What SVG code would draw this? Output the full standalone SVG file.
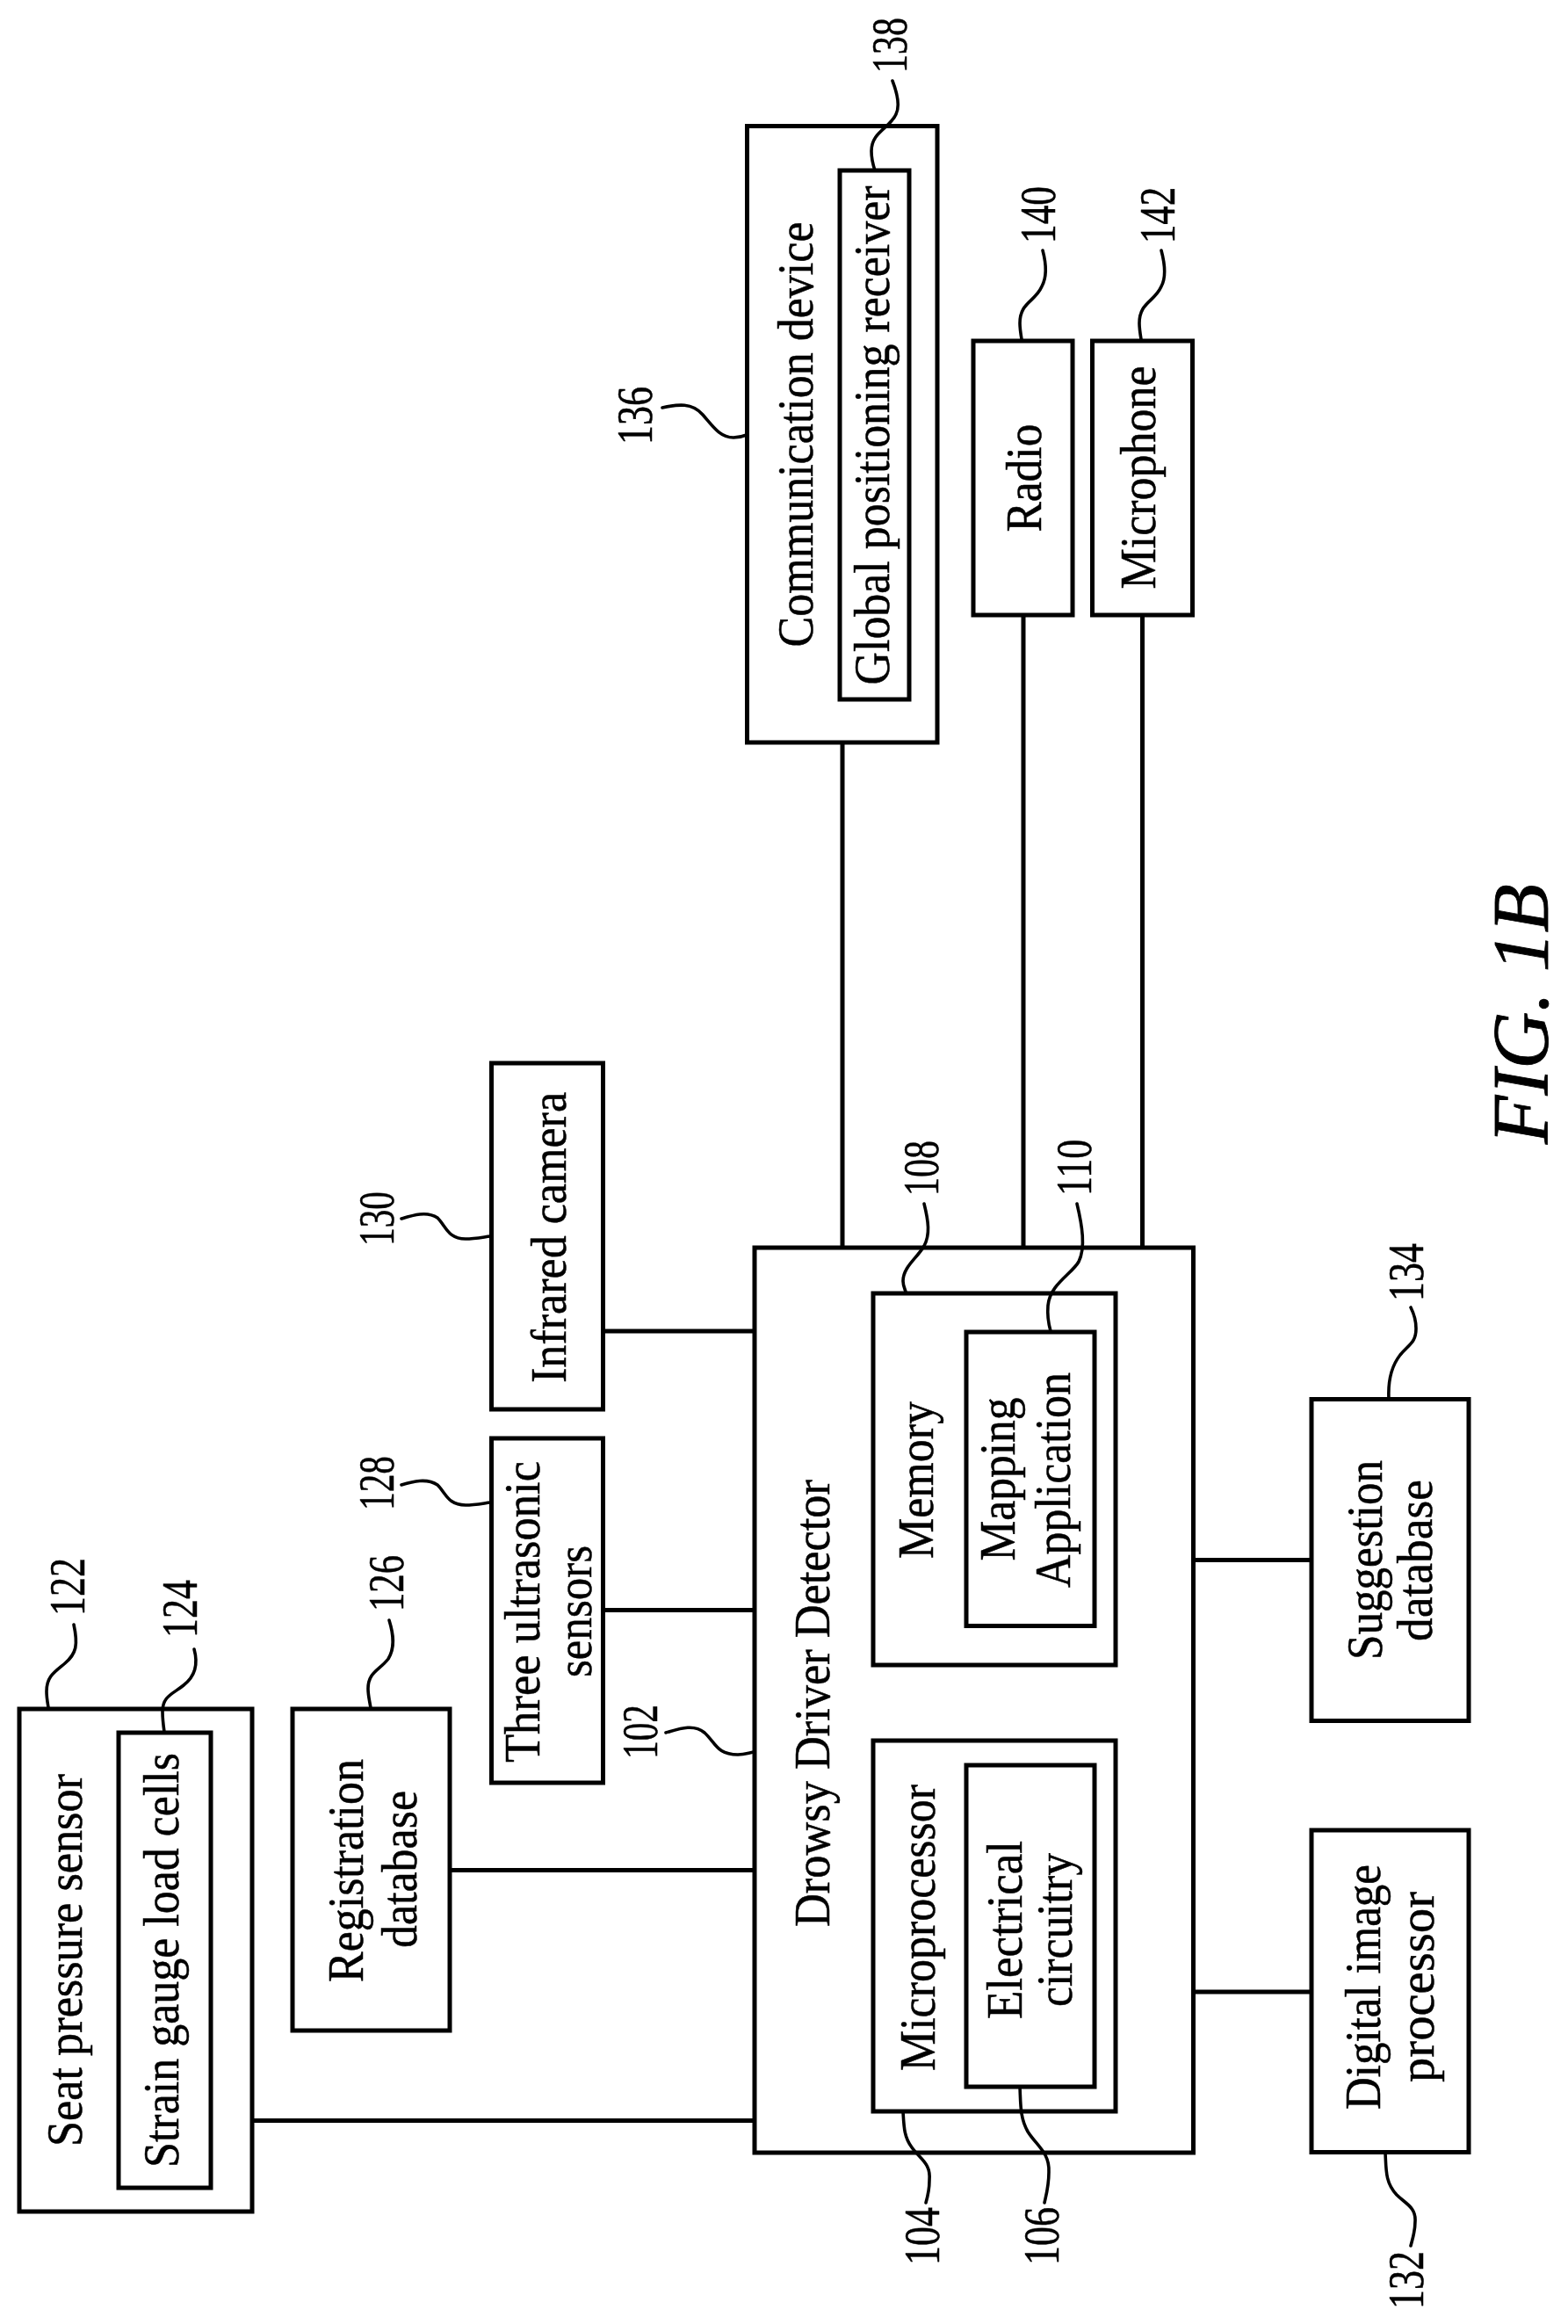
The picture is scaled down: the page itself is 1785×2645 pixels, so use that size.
<svg xmlns="http://www.w3.org/2000/svg" width="1785" height="2645" viewBox="0 0 1785 2645">
<style>
.b{fill:#fff;stroke:#000;stroke-width:5}
.c{fill:none;stroke:#000;stroke-width:5}
.l{fill:none;stroke:#000;stroke-width:3.6;stroke-linecap:round}
text{font-family:"Liberation Serif","Times New Roman",serif;fill:#000;stroke:#000;stroke-width:.5}
.t{font-size:56px}
.n{font-size:56px}
.f{font-size:90px;font-style:italic;stroke-width:.8}
</style>
<rect width="1785" height="2645" fill="#fff"/>
<g id="connectors">
<path class="c" d="M287,2413.500H859M512,2128.500H859M687,1832.500H859M686,1515H859M1358,1775.500H1493M1358,2267H1493M959,845V1420M1165,700V1420M1300.500,700V1420"/>
</g>
<g id="node-102">
<rect class="b" x="859" y="1420" width="499.500" height="1030"/>
<text class="t" transform="translate(944,2193) rotate(-90)" textLength="509" lengthAdjust="spacingAndGlyphs">Drowsy Driver Detector</text>
</g>
<g id="node-104">
<rect class="b" x="994" y="1981" width="276" height="422"/>
<text class="t" transform="translate(1064,2357) rotate(-90)" textLength="326" lengthAdjust="spacingAndGlyphs">Microprocessor</text>
</g>
<g id="node-106">
<rect class="b" x="1100" y="2009" width="146" height="366"/>
<text class="t" transform="translate(1163,2298) rotate(-90)" textLength="203" lengthAdjust="spacingAndGlyphs">Electrical</text>
<text class="t" transform="translate(1220,2284) rotate(-90)" textLength="175" lengthAdjust="spacingAndGlyphs">circuitry</text>
</g>
<g id="node-108">
<rect class="b" x="994" y="1472" width="276" height="423"/>
<text class="t" transform="translate(1062,1774) rotate(-90)" textLength="179" lengthAdjust="spacingAndGlyphs">Memory</text>
</g>
<g id="node-110">
<rect class="b" x="1100" y="1516" width="146" height="334.500"/>
<text class="t" transform="translate(1154.500,1776.500) rotate(-90)" textLength="186" lengthAdjust="spacingAndGlyphs">Mapping</text>
<text class="t" transform="translate(1218,1807) rotate(-90)" textLength="245" lengthAdjust="spacingAndGlyphs">Application</text>
</g>
<g id="node-122">
<rect class="b" x="22" y="1945" width="265" height="572"/>
<text class="t" transform="translate(93,2443) rotate(-90)" textLength="424" lengthAdjust="spacingAndGlyphs">Seat pressure sensor</text>
</g>
<g id="node-124">
<rect class="b" x="135" y="1972" width="105" height="518"/>
<text class="t" transform="translate(203,2467) rotate(-90)" textLength="472" lengthAdjust="spacingAndGlyphs">Strain gauge load cells</text>
</g>
<g id="node-126">
<rect class="b" x="333" y="1945" width="179" height="366"/>
<text class="t" transform="translate(413,2256) rotate(-90)" textLength="254" lengthAdjust="spacingAndGlyphs">Registration</text>
<text class="t" transform="translate(474,2217) rotate(-90)" textLength="179" lengthAdjust="spacingAndGlyphs">database</text>
</g>
<g id="node-128">
<rect class="b" x="559.500" y="1637" width="127" height="392"/>
<text class="t" transform="translate(614,2006) rotate(-90)" textLength="343" lengthAdjust="spacingAndGlyphs">Three ultrasonic</text>
<text class="t" transform="translate(673,1909) rotate(-90)" textLength="150" lengthAdjust="spacingAndGlyphs">sensors</text>
</g>
<g id="node-130">
<rect class="b" x="559.500" y="1210" width="127" height="394"/>
<text class="t" transform="translate(644,1574) rotate(-90)" textLength="331" lengthAdjust="spacingAndGlyphs">Infrared camera</text>
</g>
<g id="node-132">
<rect class="b" x="1493" y="2083" width="179" height="366.500"/>
<text class="t" transform="translate(1571,2401) rotate(-90)" textLength="279" lengthAdjust="spacingAndGlyphs">Digital image</text>
<text class="t" transform="translate(1632,2370) rotate(-90)" textLength="217" lengthAdjust="spacingAndGlyphs">processor</text>
</g>
<g id="node-134">
<rect class="b" x="1493" y="1592.500" width="179" height="366"/>
<text class="t" transform="translate(1573,1889) rotate(-90)" textLength="227" lengthAdjust="spacingAndGlyphs">Suggestion</text>
<text class="t" transform="translate(1630,1868) rotate(-90)" textLength="184" lengthAdjust="spacingAndGlyphs">database</text>
</g>
<g id="node-136">
<rect class="b" x="850.500" y="143.500" width="216.500" height="701.500"/>
<text class="t" transform="translate(924.500,736.500) rotate(-90)" textLength="484" lengthAdjust="spacingAndGlyphs">Communication device</text>
</g>
<g id="node-138">
<rect class="b" x="956" y="194" width="79" height="602"/>
<text class="t" transform="translate(1012,779.500) rotate(-90)" textLength="568" lengthAdjust="spacingAndGlyphs">Global positioning receiver</text>
</g>
<g id="node-140">
<rect class="b" x="1108" y="388" width="113" height="312"/>
<text class="t" transform="translate(1185,605.600) rotate(-90)" textLength="123" lengthAdjust="spacingAndGlyphs">Radio</text>
</g>
<g id="node-142">
<rect class="b" x="1243.500" y="388" width="114" height="312"/>
<text class="t" transform="translate(1315,670.500) rotate(-90)" textLength="254" lengthAdjust="spacingAndGlyphs">Microphone</text>
</g>
<g id="leaders">
<path class="l" d="M758,1972C775,1967 790,1962 802,1972C815,1984 816,1997 840,1997C848,1997 852,1995 858,1994"/>
<path class="l" d="M1028,2403C1029,2420 1029,2432 1038,2444C1048,2458 1060,2462 1058,2482C1058,2492 1056,2500 1054,2507"/>
<path class="l" d="M1161,2375C1162,2395 1161,2410 1170,2426C1180,2442 1195,2450 1194,2472C1194,2488 1191,2498 1189,2507"/>
<path class="l" d="M1052,1370C1057,1390 1059,1405 1052,1418C1044,1432 1028,1442 1028,1458C1028,1463 1030,1467 1031,1470"/>
<path class="l" d="M1226,1370C1232,1395 1236,1420 1228,1436C1220,1450 1195,1462 1193,1486C1192,1498 1194,1508 1196,1515"/>
<path class="l" d="M84,1849C89,1872 87,1882 74,1893C62,1903 53,1908 53,1925C53,1932 54,1937 55,1943"/>
<path class="l" d="M221,1877C226,1895 222,1908 209,1918C197,1928 185,1930 185,1948C185,1957 186,1964 187,1971"/>
<path class="l" d="M443,1844C448,1860 450,1875 442,1888C432,1901 419,1903 419,1922C419,1930 421,1937 422,1944"/>
<path class="l" d="M457,1690C470,1686 486,1682 498,1690C508,1700 510,1713 530,1713C540,1713 550,1711 558,1710"/>
<path class="l" d="M457,1387C470,1383 486,1378 498,1386C508,1396 510,1410 530,1410C540,1410 550,1408 558,1407"/>
<path class="l" d="M1577,2450C1578,2470 1577,2484 1590,2498C1600,2508 1612,2512 1611,2528C1611,2540 1608,2548 1606,2556"/>
<path class="l" d="M1581,1592C1580,1572 1583,1556 1594,1542C1604,1530 1612,1528 1612,1512C1612,1502 1609,1494 1606,1488"/>
<path class="l" d="M754,464C772,460 788,458 800,472C812,486 820,498 835,498C840,498 845,497 850,495"/>
<path class="l" d="M1016,92C1021,105 1025,120 1020,130C1013,146 992,150 992,172C992,180 994,188 996,194"/>
<path class="l" d="M1187,285C1191,300 1192,315 1186,326C1178,344 1161,344 1161,368C1161,374 1162,380 1163,386"/>
<path class="l" d="M1322,285C1326,300 1328,315 1322,326C1314,344 1297,344 1297,368C1297,374 1298,380 1299,386"/>
</g>
<g id="labels">
<text class="n" transform="translate(748,2002) rotate(-90)" textLength="62" lengthAdjust="spacingAndGlyphs">102</text>
<text class="n" transform="translate(1069,2578) rotate(-90)" textLength="66" lengthAdjust="spacingAndGlyphs">104</text>
<text class="n" transform="translate(1205,2578) rotate(-90)" textLength="66" lengthAdjust="spacingAndGlyphs">106</text>
<text class="n" transform="translate(1068,1361) rotate(-90)" textLength="63" lengthAdjust="spacingAndGlyphs">108</text>
<text class="n" transform="translate(1242,1361) rotate(-90)" textLength="64" lengthAdjust="spacingAndGlyphs">110</text>
<text class="n" transform="translate(96,1839) rotate(-90)" textLength="66" lengthAdjust="spacingAndGlyphs">122</text>
<text class="n" transform="translate(224,1864) rotate(-90)" textLength="66" lengthAdjust="spacingAndGlyphs">124</text>
<text class="n" transform="translate(459,1834) rotate(-90)" textLength="64" lengthAdjust="spacingAndGlyphs">126</text>
<text class="n" transform="translate(448,1719) rotate(-90)" textLength="62" lengthAdjust="spacingAndGlyphs">128</text>
<text class="n" transform="translate(448,1418) rotate(-90)" textLength="62" lengthAdjust="spacingAndGlyphs">130</text>
<text class="n" transform="translate(1620,2628) rotate(-90)" textLength="66" lengthAdjust="spacingAndGlyphs">132</text>
<text class="n" transform="translate(1620,1481) rotate(-90)" textLength="66" lengthAdjust="spacingAndGlyphs">134</text>
<text class="n" transform="translate(742,506) rotate(-90)" textLength="66" lengthAdjust="spacingAndGlyphs">136</text>
<text class="n" transform="translate(1031.500,83) rotate(-90)" textLength="63" lengthAdjust="spacingAndGlyphs">138</text>
<text class="n" transform="translate(1201,277) rotate(-90)" textLength="65" lengthAdjust="spacingAndGlyphs">140</text>
<text class="n" transform="translate(1337,277) rotate(-90)" textLength="64" lengthAdjust="spacingAndGlyphs">142</text>
<text class="f" transform="translate(1762,1302) rotate(-90)" textLength="296" lengthAdjust="spacingAndGlyphs">FIG. 1B</text>
</g>
</svg>
